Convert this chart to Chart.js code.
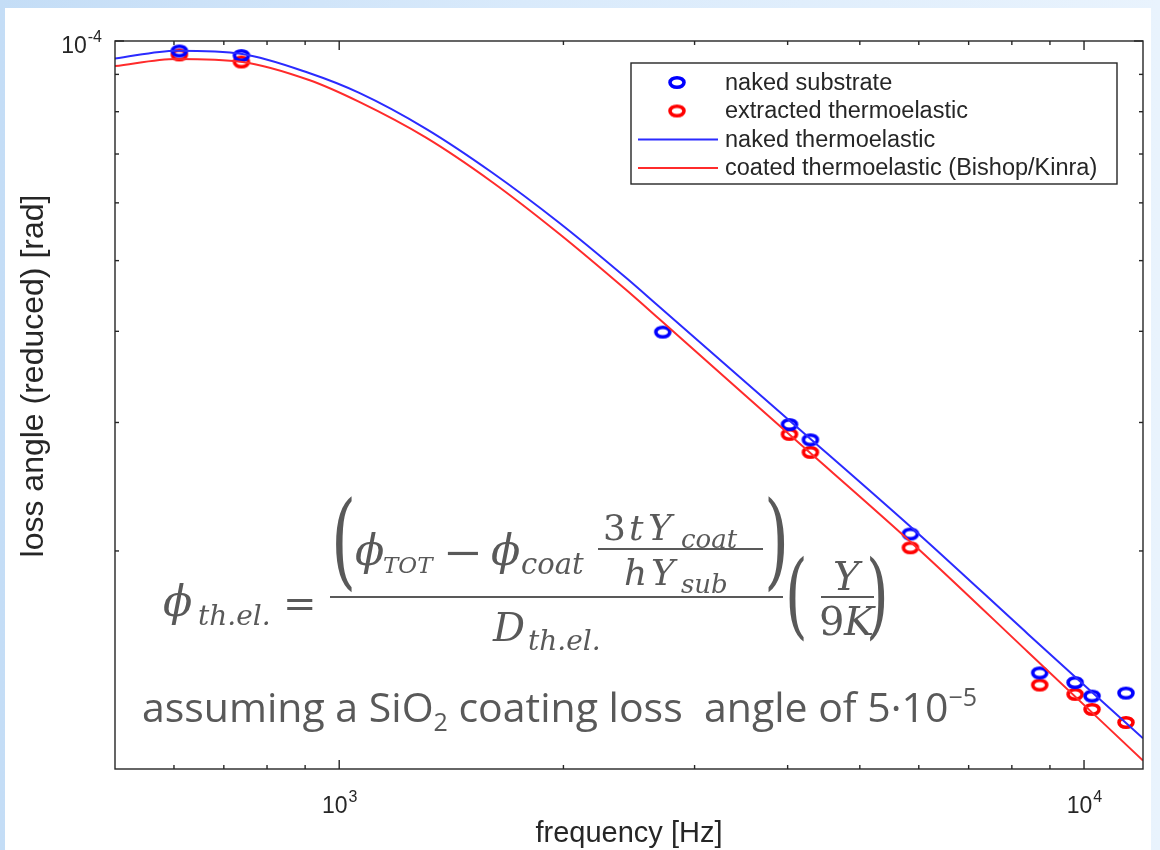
<!DOCTYPE html>
<html>
<head>
<meta charset="utf-8">
<script src="https://cdn.jsdelivr.net/npm/chart.js@4/dist/chart.umd.min.js"></script>
<style>
  html, body { margin: 0; padding: 0; }
  body {
    width: 1160px; height: 850px; position: relative; overflow: hidden;
    background: linear-gradient(90deg, #c4ddf6 0%, #d9eafb 45%, #e9f3fd 100%);
  }
  #panel { position: absolute; left: 5px; top: 8px; width: 1146px; height: 842px; background: #ffffff; }
  #wrap { position: absolute; left: 0; top: 0; width: 1160px; height: 850px; }
  .m { position: absolute; line-height: 1; white-space: nowrap; color: #595959;
       font-family: "DejaVu Serif", "Liberation Serif", serif; font-style: italic; }
  .up { font-style: normal; }
  .bar { position: absolute; height: 2px; background: #595959; }
  .paren { transform-origin: 0 0; transform: scaleX(0.62); font-style: normal; }
  .minus { transform-origin: 0 0; transform: scaleX(1.2); }
  #note { position: absolute; left: 142px; top: 686px; line-height: 1; white-space: nowrap;
          font-family: "Open Sans", "Noto Sans", sans-serif; font-size: 41px; color: #595959; }
  #note .sub { font-size: 25px; position: relative; top: 9px; }
  #note .sup { font-size: 25px; position: relative; top: -16px; }
</style>
</head>
<body>
<div id="panel"></div>
<div id="wrap"><canvas id="chart" width="1160" height="850"></canvas></div>

<!-- thermoelastic extraction formula -->
<div class="m" style="left:163px; top:580px; font-size:43px;">ϕ</div>
<div class="m" style="left:198px; top:602px; font-size:28px;">th.el.</div>
<div class="m up" style="left:283px; top:583px; font-size:40px;">=</div>
<div class="bar" style="left:330px; top:596px; width:453px;"></div>
<div class="m paren" style="left:331px; top:488px; font-size:104px;">(</div>
<div class="m" style="left:355px; top:529px; font-size:43px;">ϕ</div>
<div class="m" style="left:383px; top:554px; font-size:23px;">TOT</div>
<div class="m up minus" style="left:443px; top:532px; font-size:40px;">−</div>
<div class="m" style="left:491px; top:529px; font-size:43px;">ϕ</div>
<div class="m" style="left:521px; top:550px; font-size:29px;">coat</div>
<div class="bar" style="left:598px; top:548px; width:165px;"></div>
<div class="m up" style="left:603px; top:510px; font-size:36px;">3</div>
<div class="m" style="left:629px; top:510px; font-size:36px;">t</div>
<div class="m" style="left:648px; top:510px; font-size:36px;">Y</div>
<div class="m" style="left:681px; top:526px; font-size:26px;">coat</div>
<div class="m" style="left:624px; top:555px; font-size:36px;">h</div>
<div class="m" style="left:651px; top:555px; font-size:36px;">Y</div>
<div class="m" style="left:681px; top:571px; font-size:26px;">sub</div>
<div class="m paren" style="left:764px; top:488px; font-size:104px;">)</div>
<div class="m" style="left:493px; top:607px; font-size:40px;">D</div>
<div class="m" style="left:528px; top:627px; font-size:28px;">th.el.</div>
<div class="m paren" style="left:785px; top:548px; font-size:94px;">(</div>
<div class="m" style="left:833px; top:556px; font-size:40px;">Y</div>
<div class="bar" style="left:821px; top:596px; width:53px;"></div>
<div class="m up" style="left:819px; top:601px; font-size:40px;">9</div>
<div class="m" style="left:844px; top:601px; font-size:40px;">K</div>
<div class="m paren" style="left:866px; top:548px; font-size:94px;">)</div>

<div id="note">assuming a SiO<span class="sub">2</span> coating loss&nbsp; angle of 5·10<span class="sup">−5</span></div>

<script>
// Measured loss angles (naked substrate) and extracted thermoelastic contribution
const nakedFreq = [610, 739, 2719, 4023, 4292, 5846, 8720, 9727, 10250, 11385];
const nakedLoss = [9.69e-5, 9.55e-5, 3.99e-5, 2.98e-5, 2.84e-5, 2.11e-5, 1.361e-5, 1.32e-5, 1.265e-5, 1.277e-5];
const extractedFreq = [610, 739, 4023, 4292, 5846, 8720, 9727, 10250, 11385];
const extractedLoss = [9.57e-5, 9.36e-5, 2.89e-5, 2.73e-5, 2.02e-5, 1.31e-5, 1.272e-5, 1.213e-5, 1.164e-5];

// Thermoelastic model curves (naked and coated, Bishop/Kinra)
const modelFreq = [500, 605, 741, 911, 1064, 1308, 1604, 1972, 2425, 2685, 4036, 5992, 8413, 12000];
const nakedModel = [9.46e-5, 9.70e-5, 9.60e-5, 9.04e-5, 8.49e-5, 7.58e-5, 6.604e-5, 5.64e-5, 4.74e-5, 4.33e-5, 3.01e-5, 2.112e-5, 1.538e-5, 1.107e-5];
const coatedModel = [9.24e-5, 9.45e-5, 9.36e-5, 8.84e-5, 8.25e-5, 7.37e-5, 6.408e-5, 5.446e-5, 4.563e-5, 4.165e-5, 2.879e-5, 2.013e-5, 1.453e-5, 1.032e-5];

// Axis ticks
const xMajorTicks = [1000, 10000];
const xMajorExp = ['3', '4'];
const xMinorTicks = [600, 700, 800, 900, 2000, 3000, 4000, 5000, 6000, 7000, 8000, 9000];
const yMajorTicks = [1e-4];
const yMajorExp = ['-4'];
const yMinorTicks = [2e-5, 3e-5, 4e-5, 5e-5, 6e-5, 7e-5, 8e-5, 9e-5];

const xTitle = 'frequency [Hz]';
const yTitle = 'loss angle (reduced) [rad]';
const seriesNames = ['naked substrate', 'extracted thermoelastic', 'naked thermoelastic', 'coated thermoelastic (Bishop/Kinra)'];

const AXIS_COLOR = '#262626';
const SANS = '"Liberation Sans", Arial, Helvetica, sans-serif';

// open elliptical ring marker
function ringMarker(color) {
  const c = document.createElement('canvas');
  c.width = 22; c.height = 17;
  const g = c.getContext('2d');
  g.strokeStyle = color;
  g.lineWidth = 3.6;
  g.beginPath();
  g.ellipse(11, 8.5, 7, 4.8, 0, 0, Math.PI * 2);
  g.stroke();
  return c;
}
const blueRing = ringMarker('#0000ff');
const redRing = ringMarker('#ff0000');

const pairs = (xs, ys) => xs.map((v, i) => ({ x: v, y: ys[i] }));

// box, inward ticks, tick labels with exponents and axis titles
const axesDecor = {
  id: 'axesDecor',
  afterDatasetsDraw(chart) {
    const { ctx, chartArea: a, scales: { x, y } } = chart;
    ctx.save();
    ctx.strokeStyle = AXIS_COLOR;
    ctx.lineWidth = 1.4;
    ctx.strokeRect(a.left, a.top, a.right - a.left, a.bottom - a.top);
    const seg = (x1, y1, x2, y2) => { ctx.beginPath(); ctx.moveTo(x1, y1); ctx.lineTo(x2, y2); ctx.stroke(); };
    xMinorTicks.forEach(v => { const p = x.getPixelForValue(v); seg(p, a.bottom, p, a.bottom - 4); seg(p, a.top, p, a.top + 4); });
    xMajorTicks.forEach(v => { const p = x.getPixelForValue(v); seg(p, a.bottom, p, a.bottom - 9); seg(p, a.top, p, a.top + 9); });
    yMinorTicks.forEach(v => { const p = y.getPixelForValue(v); seg(a.left, p, a.left + 4, p); seg(a.right, p, a.right - 4, p); });
    yMajorTicks.forEach(v => { const p = y.getPixelForValue(v); seg(a.left, p, a.left + 9, p); seg(a.right, p, a.right - 9, p); });

    ctx.fillStyle = AXIS_COLOR;
    ctx.textBaseline = 'alphabetic';
    const baseFont = '23px ' + SANS, expFont = '16px ' + SANS;
    const measure = (base, exp) => {
      ctx.font = baseFont; const wb = ctx.measureText(base).width;
      ctx.font = expFont; const we = ctx.measureText(exp).width;
      return [wb, we];
    };
    xMajorTicks.forEach((v, i) => {
      const p = x.getPixelForValue(v);
      const [wb, we] = measure('10', xMajorExp[i]);
      const left = p - (wb + we) / 2;
      ctx.textAlign = 'left';
      ctx.font = baseFont; ctx.fillText('10', left, a.bottom + 44);
      ctx.font = expFont; ctx.fillText(xMajorExp[i], left + wb + 1, a.bottom + 33);
    });
    yMajorTicks.forEach((v, i) => {
      const p = y.getPixelForValue(v);
      const [wb, we] = measure('10', yMajorExp[i]);
      const right = a.left - 13;
      ctx.textAlign = 'left';
      ctx.font = baseFont; ctx.fillText('10', right - we - wb - 1, p + 12);
      ctx.font = expFont; ctx.fillText(yMajorExp[i], right - we, p + 1);
    });

    ctx.font = '29px ' + SANS;
    ctx.textAlign = 'center';
    ctx.fillText(xTitle, (a.left + a.right) / 2, 842);
    ctx.save();
    ctx.translate(43, 376);
    ctx.rotate(-Math.PI / 2);
    ctx.font = '32px ' + SANS;
    ctx.fillText(yTitle, 0, 0);
    ctx.restore();
    ctx.restore();
  }
};

// boxed legend in the upper right of the plot
const boxLegend = {
  id: 'boxLegend',
  afterDraw(chart) {
    const { ctx } = chart;
    const bx = 631, by = 63, bw = 486, bh = 121;
    ctx.save();
    ctx.fillStyle = '#ffffff';
    ctx.fillRect(bx, by, bw, bh);
    ctx.strokeStyle = AXIS_COLOR;
    ctx.lineWidth = 1.4;
    ctx.strokeRect(bx, by, bw, bh);
    const rowY = [82.5, 111, 139.5, 168];
    chart.data.datasets.forEach((ds, i) => {
      const yy = rowY[i];
      if (ds.showLine) {
        ctx.strokeStyle = ds.borderColor;
        ctx.lineWidth = ds.borderWidth;
        ctx.beginPath(); ctx.moveTo(638, yy); ctx.lineTo(718, yy); ctx.stroke();
      } else {
        const img = ds.pointStyle;
        ctx.drawImage(img, 677 - img.width / 2, yy - img.height / 2);
      }
      ctx.fillStyle = AXIS_COLOR;
      ctx.font = '23.5px ' + SANS;
      ctx.textAlign = 'left';
      ctx.textBaseline = 'middle';
      ctx.fillText(ds.label, 725, yy + 1);
    });
    ctx.restore();
  }
};

new Chart(document.getElementById('chart'), {
  type: 'scatter',
  data: {
    datasets: [
      { label: seriesNames[0], data: pairs(nakedFreq, nakedLoss), pointStyle: blueRing, showLine: false, order: 1 },
      { label: seriesNames[1], data: pairs(extractedFreq, extractedLoss), pointStyle: redRing, showLine: false, order: 1 },
      { label: seriesNames[2], data: pairs(modelFreq, nakedModel), showLine: true, borderColor: '#2b2bff', borderWidth: 2,
        pointRadius: 0, cubicInterpolationMode: 'monotone', order: 0 },
      { label: seriesNames[3], data: pairs(modelFreq, coatedModel), showLine: true, borderColor: '#ff2b2b', borderWidth: 2,
        pointRadius: 0, cubicInterpolationMode: 'monotone', order: 0 }
    ]
  },
  options: {
    responsive: false,
    animation: false,
    devicePixelRatio: 1,
    layout: { padding: { top: 41, right: 17, left: 0, bottom: 0 } },
    plugins: { legend: { display: false }, tooltip: { enabled: false } },
    scales: {
      x: {
        type: 'logarithmic', min: 500, max: 12000,
        grid: { display: false }, border: { display: false },
        ticks: { display: false },
        afterFit: s => { s.height = 81; }
      },
      y: {
        type: 'logarithmic', min: 1.005e-5, max: 1e-4,
        grid: { display: false }, border: { display: false },
        ticks: { display: false },
        afterFit: s => { s.width = 115; }
      }
    }
  },
  plugins: [axesDecor, boxLegend]
});
</script>
</body>
</html>
